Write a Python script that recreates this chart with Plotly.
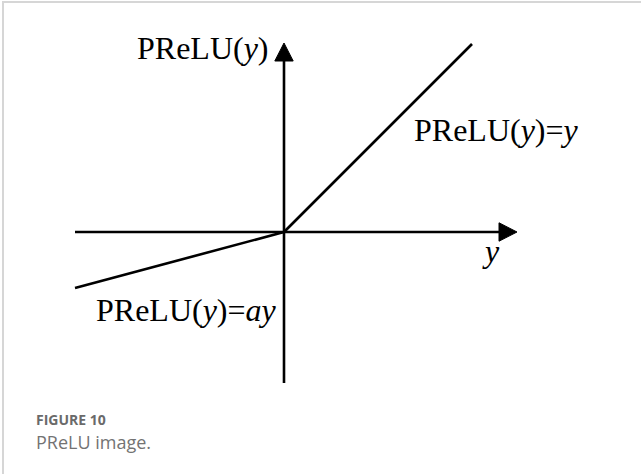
import plotly.graph_objects as go

# Conceptual data (1 unit = 100 px in this layout)
neg_in = [-2.09, 0.0]
neg_out = [-0.56, 0.0]
pos_in = [0.0, 1.88]
pos_out = [0.0, 1.88]
h_axis_x = [-2.09, 2.33]
h_axis_y = [0.0, 0.0]
v_axis_x = [0.0, 0.0]
v_axis_y = [-1.51, 1.89]

labels_text = ["PReLU(<i>y</i>)", "PReLU(<i>y</i>)=<i>y</i>", "<i>y</i>", "PReLU(<i>y</i>)=<i>ay</i>"]
labels_x = [-0.81, 2.12, 2.07, -0.98]
labels_y = [1.84, 1.02, -0.19, -0.78]

HEAD_LEN = 0.18
HEAD_HALF = 0.092
LW = 2.6
FONT = "Liberation Serif, Times New Roman, serif"

fig = go.Figure()

# axis lines (stop at arrowhead base)
fig.add_trace(go.Scatter(x=[h_axis_x[0], h_axis_x[1] - HEAD_LEN], y=h_axis_y, mode="lines",
                         line=dict(color="black", width=LW), hoverinfo="skip"))
fig.add_trace(go.Scatter(x=v_axis_x, y=[v_axis_y[0], v_axis_y[1] - HEAD_LEN], mode="lines",
                         line=dict(color="black", width=LW), hoverinfo="skip"))

# arrow heads
hx = h_axis_x[1]
fig.add_trace(go.Scatter(x=[hx, hx - HEAD_LEN, hx - HEAD_LEN, hx],
                         y=[0, HEAD_HALF, -HEAD_HALF, 0], mode="lines", fill="toself",
                         fillcolor="black", line=dict(color="black", width=1), hoverinfo="skip"))
vy = v_axis_y[1]
fig.add_trace(go.Scatter(x=[0, HEAD_HALF, -HEAD_HALF, 0],
                         y=[vy, vy - HEAD_LEN, vy - HEAD_LEN, vy], mode="lines", fill="toself",
                         fillcolor="black", line=dict(color="black", width=1), hoverinfo="skip"))

# PReLU function
fig.add_trace(go.Scatter(x=neg_in, y=neg_out, mode="lines",
                         line=dict(color="black", width=LW), hoverinfo="skip"))
fig.add_trace(go.Scatter(x=pos_in, y=pos_out, mode="lines",
                         line=dict(color="black", width=LW), hoverinfo="skip"))

for t, x, y in zip(labels_text, labels_x, labels_y):
    fig.add_annotation(x=x, y=y, text=t, showarrow=False, xanchor="center", yanchor="middle",
                       font=dict(family=FONT, size=32, color="black"))

# caption
fig.add_annotation(xref="paper", yref="paper", x=35 / 641, y=1 - 419 / 474, text="<b>FIGURE 10</b>",
                   showarrow=False, xanchor="left", yanchor="middle", borderpad=0,
                   font=dict(family="Open Sans, sans-serif", size=14, color="#6a6a6a"))
fig.add_annotation(xref="paper", yref="paper", x=35 / 641, y=1 - 442 / 474, text="PReLU image.",
                   showarrow=False, xanchor="left", yanchor="middle", borderpad=0,
                   font=dict(family="Open Sans, sans-serif", size=18, color="#737373"))

# card border
fig.add_shape(type="rect", xref="paper", yref="paper", x0=3 / 641, x1=1.2, y0=-0.2, y1=1 - 2 / 474,
              line=dict(color="#d6d6d6", width=2))

fig.update_layout(
    width=641, height=474, margin=dict(l=0, r=0, t=0, b=0),
    paper_bgcolor="white", plot_bgcolor="white", showlegend=False,
    xaxis=dict(range=[-2.84, 3.57], visible=False, fixedrange=True),
    yaxis=dict(range=[-2.42, 2.32], visible=False, fixedrange=True),
)
fig.write_html("out.html", post_script="document.body.style.margin='0';",
               config={"displayModeBar": False})
